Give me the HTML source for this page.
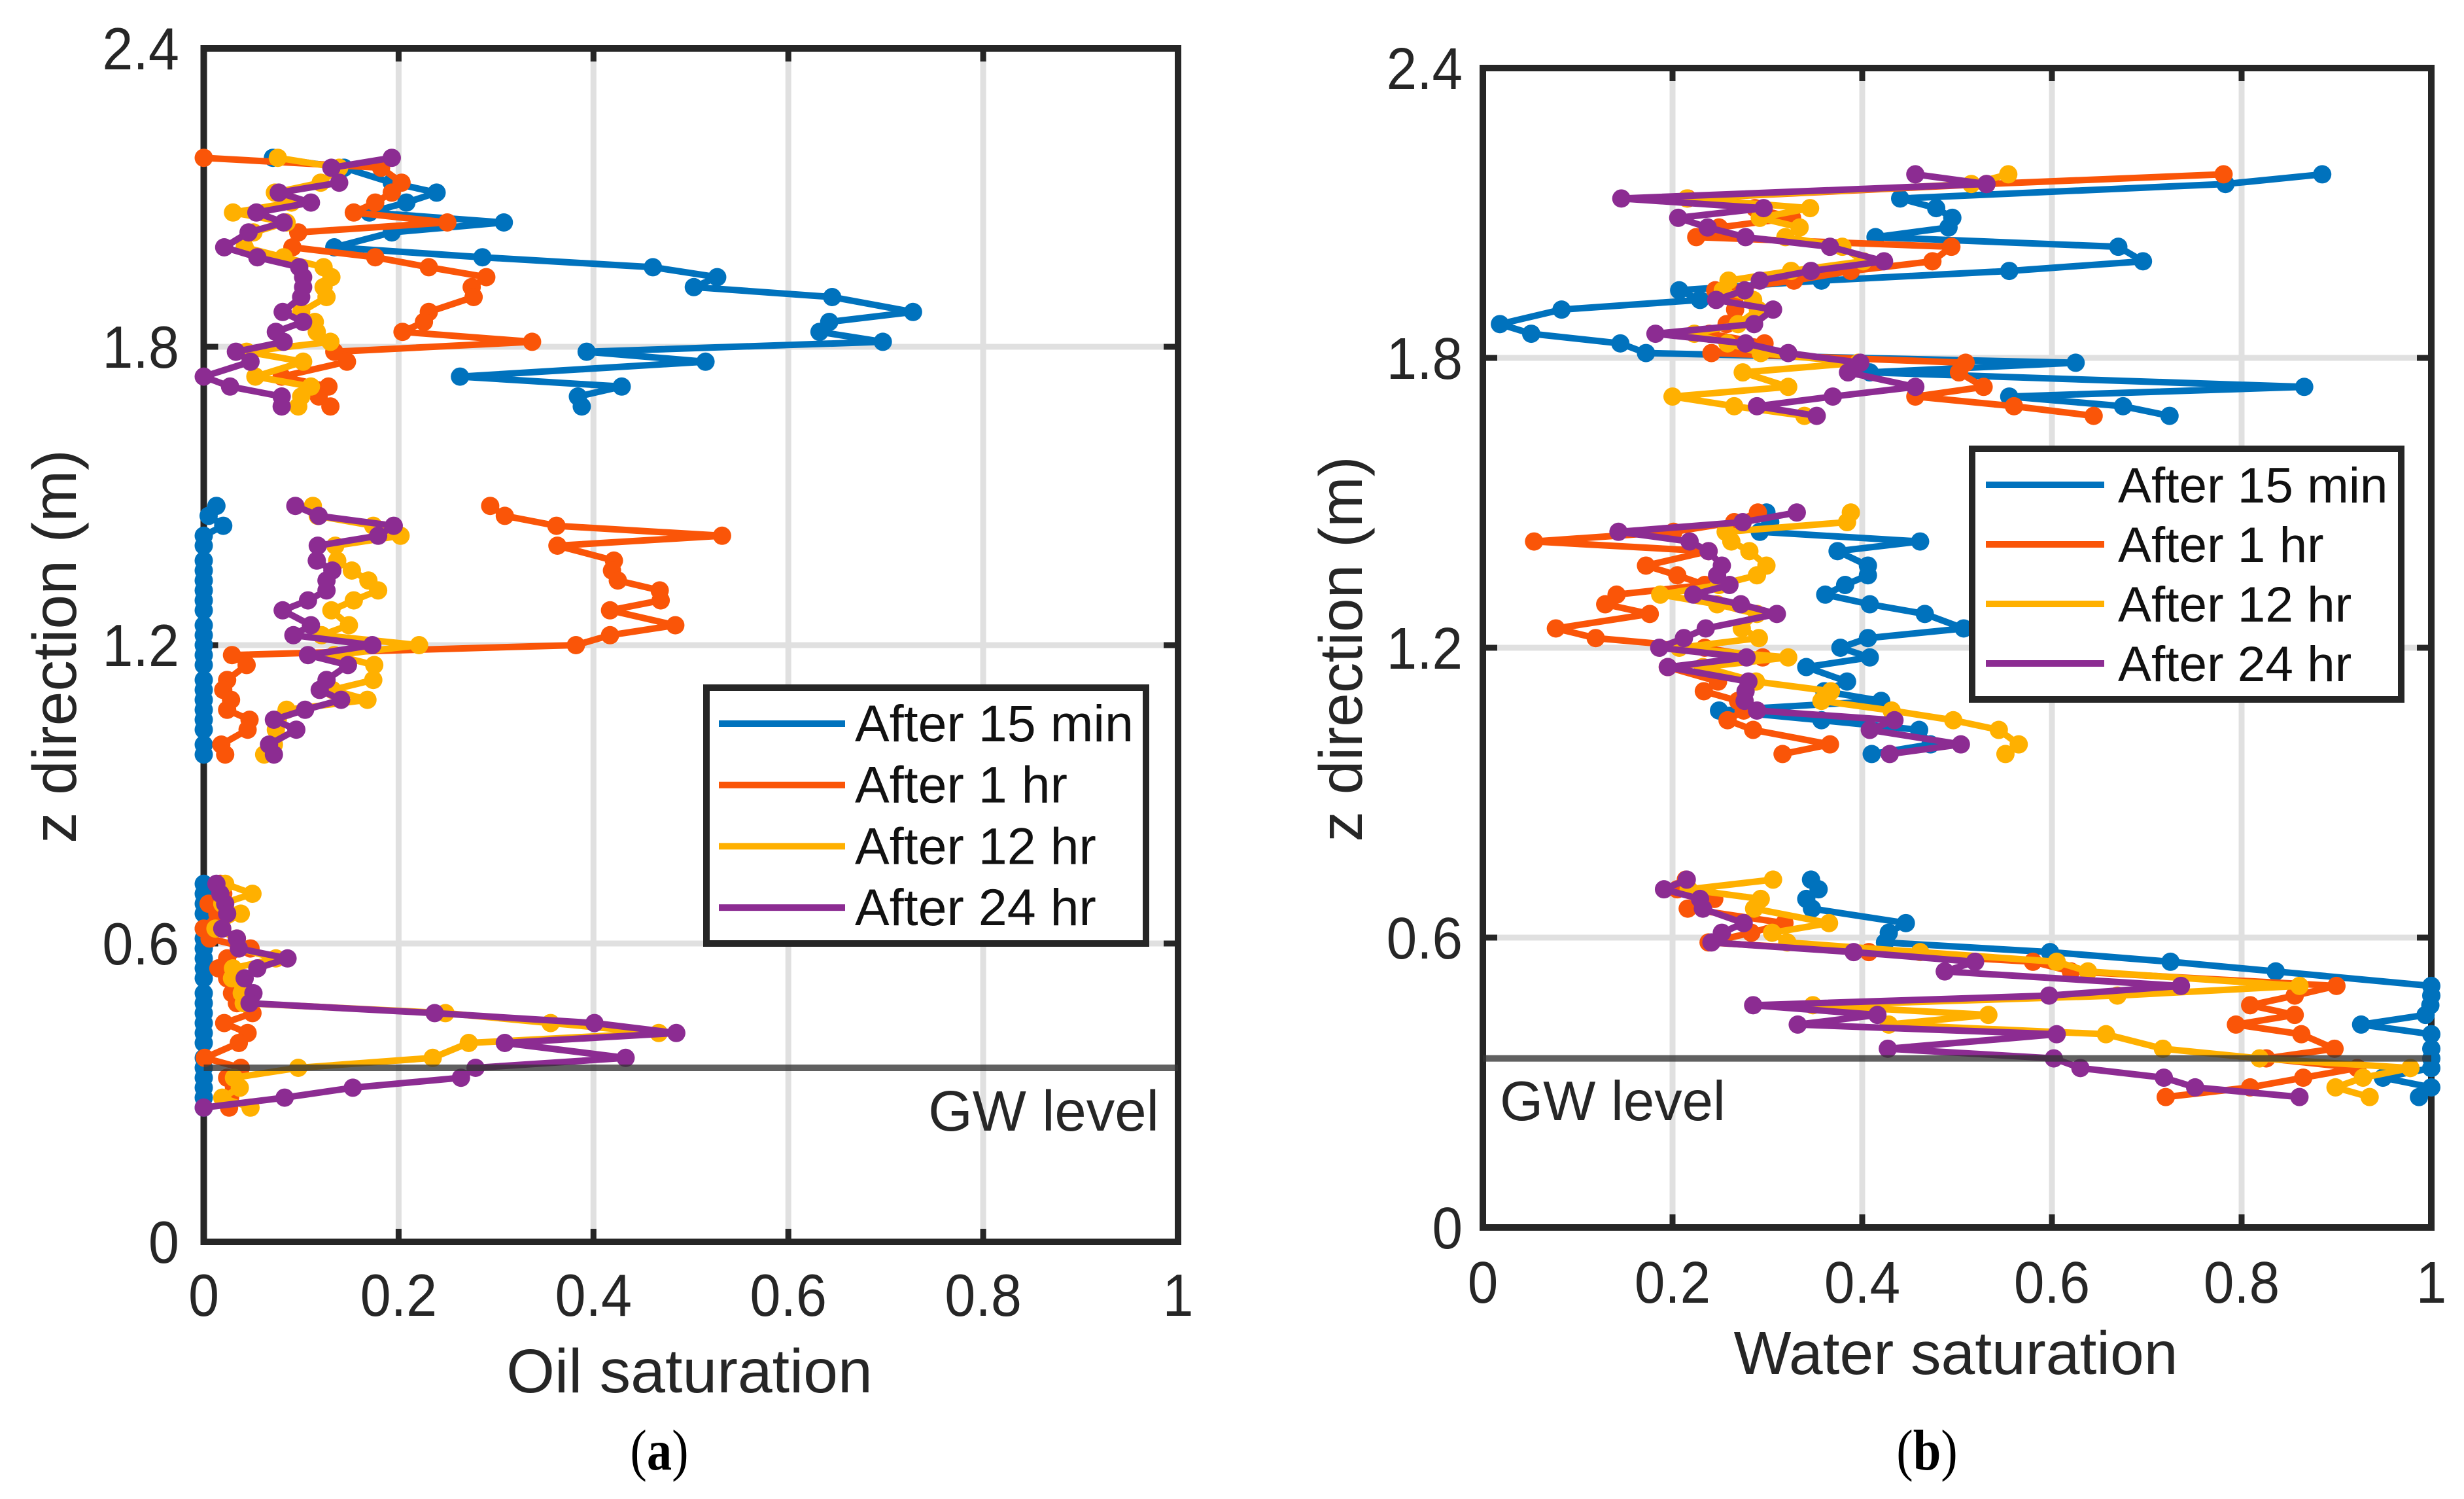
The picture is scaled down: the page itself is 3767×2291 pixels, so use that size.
<!DOCTYPE html>
<html lang="en">
<head>
<meta charset="utf-8">
<title>Oil and water saturation profiles</title>
<style>
html,body{margin:0;padding:0;background:#fff;}
svg{display:block;}
text{font-family:"Liberation Sans",sans-serif;fill:#262626;}
.cap{font-family:"Liberation Serif",serif;fill:#000;}
</style>
</head>
<body>
<svg id="figure" xmlns="http://www.w3.org/2000/svg" width="3767" height="2291" viewBox="0 0 3767 2291">
<rect width="3767" height="2291" fill="#fff"/>
</svg>
<script>
// Shared depth levels (m)
const upperDepth = [2.18,2.16,2.13,2.11,2.09,2.07,2.05,2.03,2.00,1.98,1.96,1.94,1.92,1.90,1.87,1.85,1.83,1.81,1.79,1.77,1.74,1.72,1.70,1.68];
const middleDepth = [1.48,1.46,1.44,1.42,1.40,1.37,1.35,1.33,1.31,1.29,1.27,1.24,1.22,1.20,1.18,1.16,1.13,1.11,1.09,1.07,1.05,1.03,1.00,0.98];
const lowerDepth = [0.72,0.70,0.68,0.66,0.63,0.61,0.59,0.57,0.55,0.53,0.50,0.48,0.46,0.44,0.42,0.40,0.37,0.35,0.33,0.31,0.29,0.27];

// Oil saturation
const oil15Upper = [.071,.144,.193,.239,.208,.170,.308,.193,.134,.286,.461,.527,.503,.645,.728,.642,.632,.697,.393,.515,.263,.429,.384,.388];
const oil15Middle = [.013,.005,.020,0,0,0,0,0,0,0,0,0,0,0,0,0,0,0,0,0,0,0,0,0];
const oil15Lower = [0,0,0,0,0,0,0,0,0,0,0,0,0,0,0,0,0,0,0,0,0,0];
const oil1Upper = [0,.182,.203,.193,.176,.154,.250,.097,.091,.176,.231,.290,.275,.277,.231,.226,.204,.337,.134,.147,.080,.128,.118,.130];
const oil1Middle = [.294,.309,.362,.532,.363,.421,.419,.425,.468,.469,.417,.484,.417,.382,.029,.044,.024,.020,.028,.024,.047,.045,.018,.022];
const oil1Lower = [.017,.020,.005,.014,0,.006,.048,.024,.015,.024,.029,.034,.050,.021,.045,.036,.001,.038,.024,.031,.027,.026];
const oil12Upper = [.076,.139,.120,.073,.090,.030,.085,.051,.042,.082,.123,.131,.123,.126,.100,.114,.116,.130,.044,.102,.053,.110,.100,.097];
const oil12Middle = [.112,.117,.174,.202,.135,.137,.152,.169,.179,.154,.131,.149,.121,.221,.134,.175,.174,.132,.168,.085,.076,.074,.072,.062];
const oil12Lower = [.022,.050,.019,.038,.012,.034,.036,.074,.030,.029,.039,.041,.248,.356,.467,.272,.235,.097,.031,.037,.019,.048];
const oil24Upper = [.193,.131,.139,.077,.110,.054,.082,.046,.021,.055,.098,.102,.102,.100,.081,.102,.074,.082,.033,.048,0,.027,.080,.080];
const oil24Middle = [.094,.118,.195,.179,.117,.116,.132,.126,.126,.107,.081,.110,.092,.173,.107,.148,.126,.119,.141,.104,.072,.095,.067,.072];
const oil24Lower = [.013,.017,.022,.024,.019,.034,.036,.086,.055,.042,.051,.047,.237,.401,.485,.309,.433,.279,.264,.153,.083,0];

// Water saturation
const water15Upper = [.885,.783,.440,.478,.495,.491,.414,.670,.696,.555,.357,.207,.229,.083,.018,.051,.145,.172,.625,.408,.866,.555,.675,.724];
const water15Middle = [.299,.303,.292,.461,.374,.406,.406,.382,.361,.408,.466,.507,.406,.377,.408,.341,.384,.360,.420,.249,.357,.460,.472,.410];
const water15Lower = [.346,.354,.341,.347,.446,.428,.424,.598,.725,.836,1,1,.999,.994,.926,1,1,1,1,.949,1,.987];
const water1Upper = [.781,.531,.216,.287,.326,.249,.225,.494,.474,.388,.328,.245,.265,.266,.257,.239,.297,.241,.509,.502,.528,.456,.560,.644];
const water1Middle = [.290,.265,.201,.054,.238,.172,.205,.234,.141,.129,.176,.077,.119,.234,.295,.195,.248,.233,.269,.275,.258,.285,.366,.316];
const water1Lower = [.214,.205,.244,.216,.318,.283,.238,.407,.580,.620,.900,.856,.809,.856,.794,.863,.898,.826,.922,.865,.809,.720];
const water12Upper = [.554,.515,.215,.345,.292,.334,.319,.379,.401,.325,.259,.253,.285,.290,.269,.223,.258,.293,.396,.274,.322,.200,.265,.339];
const water12Middle = [.388,.384,.256,.262,.281,.299,.289,.249,.187,.247,.289,.273,.291,.207,.322,.232,.288,.367,.357,.431,.496,.544,.565,.551];
const water12Lower = [.306,.217,.293,.286,.365,.305,.321,.461,.605,.638,.861,.669,.348,.533,.428,.657,.717,.819,.978,.928,.899,.935];
const water24Upper = [.456,.531,.146,.296,.206,.237,.277,.366,.423,.346,.292,.276,.246,.306,.286,.182,.277,.322,.398,.385,.456,.369,.289,.352];
const water24Middle = [.331,.274,.143,.218,.238,.252,.247,.260,.222,.272,.310,.235,.212,.186,.278,.195,.280,.277,.276,.289,.434,.408,.504,.429];
const water24Lower = [.215,.191,.229,.232,.275,.252,.241,.391,.519,.487,.736,.597,.285,.416,.332,.605,.427,.602,.630,.718,.751,.861];

// Axis ticks and labels
const satTicks = [0,0.2,0.4,0.6,0.8,1];
const satTickLabels = ['0','0.2','0.4','0.6','0.8','1'];
const depthTicks = [0,0.6,1.2,1.8,2.4];
const depthTickLabels = ['0','0.6','1.2','1.8','2.4'];
const seriesNames = ['After 15 min','After 1 hr','After 12 hr','After 24 hr'];
const gwLevel = [0.35];

const seriesColors = ['#0072BD','#FA5508','#FFB000','#8C2C92'];
const svg = document.getElementById('figure');
const NS = 'http://www.w3.org/2000/svg';

function make(tag, parent, name, attrs){
  const el = document.createElementNS(NS, tag);
  for (const k in attrs) el.setAttribute(k, attrs[k]);
  
  
  parent.appendChild(el);
  return el;
}
function label(parent, name, str, attrs){
  const el = make('text', parent, name, attrs);
  el.textContent = str;
  return el;
}
function slug(s){ return s.toLowerCase().replace(/\s+/g,'-'); }

function drawChart(c){
  const g = make('g', svg, c.key + '-chart', {});
  const sx = v => c.x0 + v * (c.x1 - c.x0);
  const sy = v => c.y0 - (v / 2.4) * (c.y0 - c.yTop);

  // gridlines
  satTicks.forEach(function(t){
    if (t > 0 && t < 1) make('line', g, c.key + '-x-grid-' + t, {x1:sx(t),x2:sx(t),y1:c.yTop,y2:c.y0,stroke:'#E0E0E0','stroke-width':9});
  });
  depthTicks.forEach(function(t){
    if (t > 0 && t < 2.4) make('line', g, c.key + '-y-grid-' + t, {x1:c.x0,x2:c.x1,y1:sy(t),y2:sy(t),stroke:'#E0E0E0','stroke-width':9});
  });

  // axes box
  make('rect', g, c.key + '-axes-box', {x:c.x0,y:c.yTop,width:c.x1-c.x0,height:c.y0-c.yTop,fill:'none',stroke:'#262626','stroke-width':10});

  // ticks + labels
  satTicks.forEach(function(t,i){
    make('line', g, c.key + '-x-tick-' + t, {x1:sx(t),x2:sx(t),y1:c.y0,y2:c.y0-20,stroke:'#262626','stroke-width':9});
    make('line', g, c.key + '-x-tick-top-' + t, {x1:sx(t),x2:sx(t),y1:c.yTop,y2:c.yTop+20,stroke:'#262626','stroke-width':9});
    label(g, c.key + '-x-tick-label-' + t, satTickLabels[i], {x:0,y:0,'font-size':c.tickSize,'text-anchor':'middle',transform:'translate(' + sx(t) + ' ' + c.xTickBase + ') scale(0.93 1)'});
  });
  depthTicks.forEach(function(t,i){
    make('line', g, c.key + '-y-tick-' + t, {x1:c.x0,x2:c.x0+22,y1:sy(t),y2:sy(t),stroke:'#262626','stroke-width':9});
    make('line', g, c.key + '-y-tick-right-' + t, {x1:c.x1,x2:c.x1-22,y1:sy(t),y2:sy(t),stroke:'#262626','stroke-width':9});
    label(g, c.key + '-y-tick-label-' + t, depthTickLabels[i], {x:0,y:0,'font-size':c.tickSize,'text-anchor':'end',transform:'translate(' + c.yTickRight + ' ' + (sy(t)+32) + ') scale(0.93 1)'});
  });

  // series
  c.series.forEach(function(segments,si){
    const sg = make('g', g, c.key + '-series-' + slug(seriesNames[si]), {});
    segments.forEach(function(seg,gi){
      const pts = seg.values.map(function(v,i){ return sx(v) + ',' + sy(seg.depth[i]); }).join(' ');
      make('polyline', sg, c.key + '-line-' + si + '-' + gi, {points:pts,fill:'none',stroke:seriesColors[si],'stroke-width':10,'stroke-linejoin':'round'});
      seg.values.forEach(function(v,i){
        make('circle', sg, c.key + '-point-' + si + '-' + gi + '-' + i, {cx:sx(v),cy:sy(seg.depth[i]),r:14,fill:seriesColors[si]});
      });
    });
  });

  // groundwater line
  make('line', g, c.key + '-gw-level-line', {x1:c.x0,x2:c.x1,y1:sy(gwLevel[0]),y2:sy(gwLevel[0]),stroke:'#333','stroke-opacity':0.78,'stroke-width':10});
  label(g, c.key + '-gw-level-label', 'GW level', {x:c.gwX,y:c.gwY,'font-size':c.gwSize,'text-anchor':c.gwAnchor,fill:'#333'});

  // axis titles
  label(g, c.key + '-x-axis-title', c.xTitle, {x:c.xTitleX,y:c.xTitleY,'font-size':c.xTitleSize,'text-anchor':'middle'});
  label(g, c.key + '-y-axis-title', 'z direction (m)', {x:0,y:0,'font-size':c.yTitleSize,'text-anchor':'middle',transform:'translate(' + c.yTitleX + ' ' + c.yTitleY + ') rotate(-90)'});

  // legend
  const lg = make('g', g, c.key + '-legend', {});
  make('rect', lg, c.key + '-legend-box', {x:c.lgX,y:c.lgY,width:c.lgW,height:c.lgH,fill:'#fff',stroke:'#262626','stroke-width':10});
  seriesNames.forEach(function(n,i){
    const y = c.lgRow0 + i * c.lgRowStep;
    make('line', lg, c.key + '-legend-swatch-' + slug(n), {x1:c.lgLine0,x2:c.lgLine1,y1:y,y2:y,stroke:seriesColors[i],'stroke-width':10});
    label(lg, c.key + '-legend-entry-' + slug(n), n, {x:c.lgText,y:y+27,'font-size':c.lgSize,style:'fill:#111'});
  });

  // panel caption
  const cap = make('text', g, c.key + '-panel-caption', {x:0,y:0,'font-size':88,'text-anchor':'middle',class:'cap',transform:'translate(' + c.capX + ' 2246) scale(0.87 1)'});
  cap.appendChild(document.createTextNode('('));
  const b = make('tspan', cap, c.key + '-panel-letter', {'font-weight':'bold'});
  b.textContent = c.capLetter;
  cap.appendChild(document.createTextNode(')'));
}

drawChart({
  key:'oil', x0:311.5, x1:1801, y0:1898, yTop:74,
  tickSize:91, xTickBase:2011, yTickRight:274,
  xTitle:'Oil saturation', xTitleX:1054, xTitleY:2128, xTitleSize:95,
  yTitleX:116, yTitleY:988, yTitleSize:95,
  gwX:1772, gwY:1728, gwAnchor:'end', gwSize:87,
  lgX:1080, lgY:1051, lgW:672, lgH:391,
  lgRow0:1106, lgRowStep:93.7, lgLine0:1099, lgLine1:1292, lgText:1307, lgSize:79,
  capX:1008, capLetter:'a',
  series:[
    [{depth:upperDepth,values:oil15Upper},{depth:middleDepth,values:oil15Middle},{depth:lowerDepth,values:oil15Lower}],
    [{depth:upperDepth,values:oil1Upper},{depth:middleDepth,values:oil1Middle},{depth:lowerDepth,values:oil1Lower}],
    [{depth:upperDepth,values:oil12Upper},{depth:middleDepth,values:oil12Middle},{depth:lowerDepth,values:oil12Lower}],
    [{depth:upperDepth,values:oil24Upper},{depth:middleDepth,values:oil24Middle},{depth:lowerDepth,values:oil24Lower}]
  ]
});

drawChart({
  key:'water', x0:2267, x1:3717, y0:1876, yTop:104,
  tickSize:90, xTickBase:1991, yTickRight:2236,
  xTitle:'Water saturation', xTitleX:2990, xTitleY:2100, xTitleSize:93,
  yTitleX:2082, yTitleY:992, yTitleSize:93,
  gwX:2293, gwY:1712, gwAnchor:'start', gwSize:85,
  lgX:3015, lgY:686, lgW:656, lgH:383,
  lgRow0:741, lgRowStep:91, lgLine0:3036, lgLine1:3217, lgText:3238, lgSize:76.5,
  capX:2946, capLetter:'b',
  series:[
    [{depth:upperDepth,values:water15Upper},{depth:middleDepth,values:water15Middle},{depth:lowerDepth,values:water15Lower}],
    [{depth:upperDepth,values:water1Upper},{depth:middleDepth,values:water1Middle},{depth:lowerDepth,values:water1Lower}],
    [{depth:upperDepth,values:water12Upper},{depth:middleDepth,values:water12Middle},{depth:lowerDepth,values:water12Lower}],
    [{depth:upperDepth,values:water24Upper},{depth:middleDepth,values:water24Middle},{depth:lowerDepth,values:water24Lower}]
  ]
});
</script>
</body>
</html>
